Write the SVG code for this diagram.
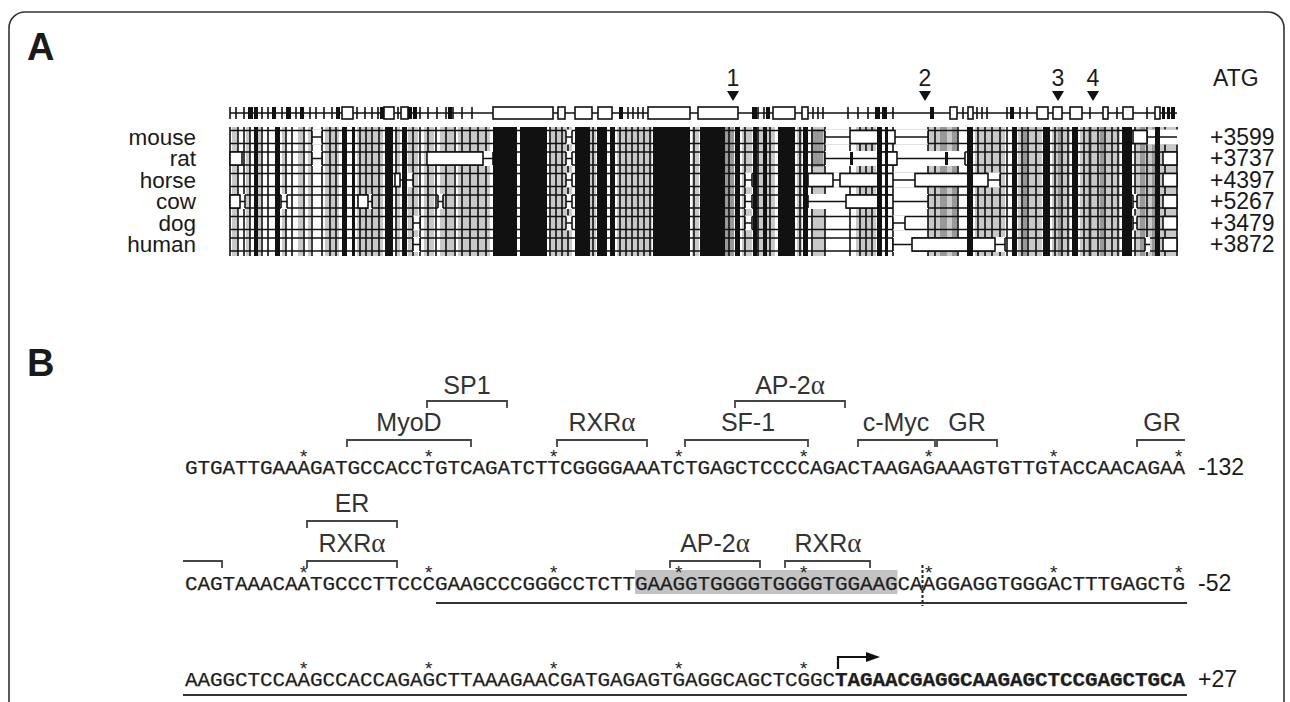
<svg xmlns="http://www.w3.org/2000/svg" width="1290" height="702" viewBox="0 0 1290 702">
<style>
.pl{font-family:"Liberation Sans",Arial,sans-serif;font-weight:bold;font-size:38px;fill:#1a1a1a}
.sp{font-family:"Liberation Sans",Arial,sans-serif;font-size:22.5px;fill:#1a1a1a}
.num{font-family:"Liberation Sans",Arial,sans-serif;font-size:23px;fill:#1a1a1a}
.seq{font-family:"Liberation Mono","Courier New",monospace;font-size:21px;fill:#1e1e1e;stroke:#1e1e1e;stroke-width:0.25}
.st{font-family:"Liberation Mono","Courier New",monospace;font-size:19px;fill:#222;text-anchor:middle}
.lab{font-family:"Liberation Sans",Arial,sans-serif;font-size:25px;fill:#333;text-anchor:middle}
.al{font-family:"Liberation Serif","Times New Roman",serif;font-size:27px}
.br{fill:none;stroke:#444;stroke-width:1.8}
.ln{fill:none;stroke:#111;stroke-width:1.6}
.g1{fill:#c9c9c9}
.g2{fill:#999}
.bk{fill:#111}
.wb{fill:#fff;stroke:#111;stroke-width:1.6}
.er{fill:#fff}
</style>
<rect x="0" y="0" width="1290" height="702" fill="#fff"/>
<g id="frame"><rect x="9" y="12" width="1275" height="740" rx="16" fill="none" stroke="#333" stroke-width="1.6"/></g>
<text class="pl" x="27" y="60">A</text>
<text class="pl" x="27" y="376">B</text>

<g id="panelA">
<g id="species" class="sp" text-anchor="end">
<text x="196" y="144.5">mouse</text>
<text x="196" y="166">rat</text>
<text x="196" y="187.5">horse</text>
<text x="196" y="209">cow</text>
<text x="196" y="230.5">dog</text>
<text x="196" y="252">human</text>
</g>
<g id="atg" class="num">
<text x="1213" y="86">ATG</text>
<text x="1210" y="144.5">+3599</text>
<text x="1210" y="166">+3737</text>
<text x="1210" y="187.5">+4397</text>
<text x="1210" y="209">+5267</text>
<text x="1210" y="230.5">+3479</text>
<text x="1210" y="252">+3872</text>
</g>
<g id="markers" class="num" text-anchor="middle">
<text x="733" y="86">1</text><polygon class="bk" points="727,91 739,91 733,101"/>
<text x="925" y="86">2</text><polygon class="bk" points="919,91 931,91 925,101"/>
<text x="1058" y="86">3</text><polygon class="bk" points="1052,91 1064,91 1058,101"/>
<text x="1093" y="86">4</text><polygon class="bk" points="1087,91 1099,91 1093,101"/>
</g>
<g id="alignment">
<g class="g1">
<rect x="232" y="127" width="6" height="129"/><rect x="246" y="127" width="4" height="129"/><rect x="256" y="127" width="5" height="129"/><rect x="282" y="127" width="4" height="129"/><rect x="298" y="127" width="5" height="129"/><rect x="308" y="127" width="3" height="129"/><rect x="325" y="127" width="14" height="129"/><rect x="357" y="127" width="26" height="129"/><rect x="396" y="127" width="4" height="129"/><rect x="408" y="127" width="10" height="129"/><rect x="424" y="127" width="10" height="129"/><rect x="440" y="127" width="14" height="129"/><rect x="458" y="127" width="32" height="129"/><rect x="550" y="127" width="22" height="129"/><rect x="590" y="127" width="6" height="129"/><rect x="617" y="127" width="35" height="129"/><rect x="692" y="127" width="7" height="129"/><rect x="742" y="127" width="10" height="129"/><rect x="757" y="127" width="18" height="129"/><rect x="797" y="127" width="5" height="129"/><rect x="811" y="127" width="14" height="129"/><rect x="856" y="127" width="20" height="129"/><rect x="928" y="127" width="30" height="129"/><rect x="975" y="127" width="30" height="129"/><rect x="1018" y="127" width="24" height="129"/><rect x="1052" y="127" width="18" height="129"/><rect x="1080" y="127" width="40" height="129"/><rect x="1135" y="127" width="42" height="129"/>
</g>
<g class="g2">
<rect x="725" y="127" width="9" height="129"/><rect x="811" y="129" width="12" height="38"/><rect x="940" y="127" width="7" height="129"/><rect x="952" y="127" width="5" height="129"/><rect x="1022" y="127" width="5" height="129"/><rect x="1058" y="127" width="4" height="129"/><rect x="1088" y="127" width="4" height="129"/><rect x="1100" y="127" width="4" height="129"/><rect x="1140" y="127" width="5" height="129"/><rect x="1152" y="127" width="3" height="129"/>
</g>
<path class="ln" d="M230 127V256M238 127V256M244 127V256M250 127V256M262 127V256M268 127V256M286 127V256M292 127V256M304 127V256M312 127V256M322 127V256M330 127V256M336 127V256M360 127V256M366 127V256M372 127V256M379 127V256M396 127V256M413 127V256M420 127V256M428 127V256M436 127V256M446 127V256M455 127V256M462 127V256M470 127V256M478 127V256M486 127V256M550 127V256M556 127V256M562 127V256M568 127V256M593 127V256M620 127V256M626 127V256M632 127V256M638 127V256M644 127V256M650 127V256M694 127V256M729 127V256M745 127V256M758 127V256M770 127V256M800 127V256M812 127V256M825 127V256M850 127V256M860 127V256M866 127V256M872 127V256M893 127V256M928 127V256M935 127V256M958 127V256M978 127V256M985 127V256M992 127V256M1000 127V256M1007 127V256M1022 127V256M1028 127V256M1036 127V256M1055 127V256M1062 127V256M1068 127V256M1084 127V256M1090 127V256M1098 127V256M1105 127V256M1112 127V256M1118 127V256M1135 127V256M1147 127V256M1165 127V256M1177 127V256"/>
<path class="ln" stroke-width="1.4" d="M230 130.5H1177M230 143.5H1177M230 152H1177M230 165H1177M230 173.5H1177M230 186.5H1177M230 195H1177M230 208H1177M230 216.5H1177M230 229.5H1177M230 238H1177M230 251H1177"/>
<g class="er">
<rect x="312" y="129.5" width="10" height="15"/><rect x="566" y="129.5" width="6" height="15"/><rect x="825" y="129.5" width="25" height="15"/><rect x="895" y="129.5" width="33" height="15"/><rect x="1147" y="129.5" width="32" height="15"/>
<rect x="312" y="151" width="10" height="15"/><rect x="483" y="151" width="10" height="15"/><rect x="566" y="151" width="6" height="15"/><rect x="825" y="151" width="55" height="15"/><rect x="897" y="151" width="68" height="15"/>
<rect x="400" y="172.5" width="13" height="15"/><rect x="566" y="172.5" width="6" height="15"/><rect x="745" y="172.5" width="7" height="15"/><rect x="833" y="172.5" width="7" height="15"/><rect x="893" y="172.5" width="22" height="15"/><rect x="988" y="172.5" width="12" height="15"/>
<rect x="240" y="194" width="5" height="15"/><rect x="281" y="194" width="6" height="15"/><rect x="368" y="194" width="4" height="15"/><rect x="438" y="194" width="5" height="15"/><rect x="566" y="194" width="6" height="15"/><rect x="745" y="194" width="7" height="15"/><rect x="808" y="194" width="38" height="15"/><rect x="893" y="194" width="35" height="15"/><rect x="1133" y="194" width="4" height="15"/>
<rect x="413" y="215.5" width="7" height="15"/><rect x="566" y="215.5" width="6" height="15"/><rect x="745" y="215.5" width="7" height="15"/><rect x="893" y="215.5" width="12" height="15"/><rect x="1133" y="215.5" width="4" height="15"/>
<rect x="413" y="237" width="7" height="15"/><rect x="893" y="237" width="19" height="15"/><rect x="995" y="237" width="10" height="15"/><rect x="1145" y="237" width="5" height="15"/>
</g>
<path class="ln" d="M312 137H322M566 137H572M825 137H850M895 137H928M1147 137H1177M312 158.5H322M483 158.5H493M566 158.5H572M825 158.5H880M897 158.5H965M400 180H413M566 180H572M745 180H752M833 180H840M893 180H915M988 180H1000M240 201.5H245M281 201.5H287M368 201.5H372M438 201.5H443M566 201.5H572M745 201.5H752M808 201.5H846M893 201.5H928M1133 201.5H1137M413 223H420M566 223H572M745 223H752M893 223H905M1133 223H1137M413 244.5H420M893 244.5H912M995 244.5H1005M1145 244.5H1150"/>
<path class="ln" d="M312 130.5V143.5M322 130.5V143.5M566 130.5V143.5M572 130.5V143.5M825 130.5V143.5M928 130.5V143.5M1147 130.5V143.5M312 152V165M322 152V165M493 152V165M566 152V165M572 152V165M825 152V165M965 152V165M413 173.5V186.5M566 173.5V186.5M572 173.5V186.5M745 173.5V186.5M752 173.5V186.5M1000 173.5V186.5M245 195V208M281 195V208M287 195V208M372 195V208M438 195V208M443 195V208M566 195V208M572 195V208M745 195V208M752 195V208M808 195V208M928 195V208M1133 195V208M1137 195V208M413 216.5V229.5M420 216.5V229.5M566 216.5V229.5M572 216.5V229.5M745 216.5V229.5M752 216.5V229.5M893 216.5V229.5M905 216.5V229.5M1133 216.5V229.5M1137 216.5V229.5M413 238V251M420 238V251M893 238V251M1005 238V251M1145 238V251"/>
<g class="wb">
<rect x="850" y="130.5" width="45" height="13"/><rect x="1133" y="130.5" width="14" height="13"/>
<rect x="230" y="152" width="12" height="13"/><rect x="427" y="152" width="56" height="13"/><rect x="880" y="152" width="17" height="13"/><rect x="1163" y="152" width="14" height="13"/>
<rect x="395" y="173.5" width="5" height="13"/><rect x="808" y="173.5" width="25" height="13"/><rect x="840" y="173.5" width="53" height="13"/><rect x="915" y="173.5" width="73" height="13"/><rect x="1163" y="173.5" width="14" height="13"/>
<rect x="230" y="195" width="10" height="13"/><rect x="358" y="195" width="10" height="13"/><rect x="846" y="195" width="47" height="13"/><rect x="1163" y="195" width="14" height="13"/>
<rect x="1163" y="216.5" width="14" height="13"/>
<rect x="912" y="238" width="83" height="13"/><rect x="1163" y="238" width="14" height="13"/>
</g>
<g class="bk">
<rect x="850" y="152" width="3" height="13"/><rect x="945" y="152" width="3" height="13"/>
<rect x="254" y="127" width="4" height="129"/><rect x="275" y="127" width="5" height="129"/><rect x="342" y="127" width="5" height="129"/><rect x="352" y="127" width="3" height="129"/><rect x="385" y="127" width="8" height="129"/><rect x="402" y="127" width="5" height="129"/><rect x="493" y="127" width="24" height="129"/><rect x="520" y="127" width="27" height="129"/><rect x="575" y="127" width="15" height="129"/><rect x="597" y="127" width="10" height="129"/><rect x="610" y="127" width="5" height="129"/><rect x="653" y="127" width="37" height="129"/><rect x="700" y="127" width="25" height="129"/><rect x="735" y="127" width="5" height="129"/><rect x="753" y="127" width="4" height="129"/><rect x="763" y="127" width="4" height="129"/><rect x="778" y="127" width="17" height="129"/><rect x="803" y="127" width="5" height="129"/><rect x="877" y="127" width="5" height="129"/><rect x="885" y="127" width="3" height="129"/><rect x="967" y="127" width="6" height="129"/><rect x="1012" y="127" width="5" height="129"/><rect x="1043" y="127" width="7" height="129"/><rect x="1072" y="127" width="6" height="129"/><rect x="1122" y="127" width="10" height="129"/><rect x="1155" y="127" width="5" height="129"/>
</g>
</g>
<g id="refbar">
<path class="ln" d="M230 113H1177"/>
<path class="ln" d="M230 107V119M236 107V119M244 107V119M262 107V119M268 107V119M282 107V119M296 107V119M310 107V119M316 107V119M324 107V119M332 107V119M357 107V119M365 107V119M372 107V119M378 107V119M398 107V119M420 107V119M428 107V119M437 107V119M446 107V119M453 107V119M462 107V119M472 107V119M628 107V119M633 107V119M638 107V119M643 107V119M758 107V119M764 107V119M813 107V119M818 107V119M823 107V119M848 107V119M858 107V119M868 107V119M893 107V119M963 107V119M977 107V119M982 107V119M987 107V119M1007 107V119M1020 107V119M1027 107V119M1090 107V119M1117 107V119M1147 107V119"/>
<g class="bk">
<rect x="248" y="107" width="5" height="12"/><rect x="254" y="107" width="4" height="12"/><rect x="272" y="107" width="4" height="12"/><rect x="286" y="107" width="5" height="12"/><rect x="300" y="107" width="4" height="12"/><rect x="336" y="107" width="4" height="12"/><rect x="380" y="107" width="4" height="12"/><rect x="408" y="107" width="4" height="12"/><rect x="413" y="107" width="4" height="12"/><rect x="448" y="107" width="4" height="12"/><rect x="619" y="107" width="4" height="12"/><rect x="752" y="107" width="5" height="12"/><rect x="766" y="107" width="4" height="12"/><rect x="875" y="107" width="5" height="12"/><rect x="882" y="107" width="5" height="12"/><rect x="930" y="107" width="4" height="12"/><rect x="1010" y="107" width="4" height="12"/><rect x="1162" y="107" width="3" height="12"/><rect x="1167" y="107" width="3" height="12"/><rect x="1171" y="107" width="4" height="12"/>
</g>
<g class="wb">
<rect x="342" y="107" width="11" height="12"/><rect x="384" y="107" width="10" height="12"/><rect x="401" y="107" width="7" height="12"/><rect x="493" y="107" width="60" height="12"/><rect x="558" y="107" width="7" height="12"/><rect x="575" y="107" width="17" height="12"/><rect x="598" y="107" width="14" height="12"/><rect x="648" y="107" width="42" height="12"/><rect x="698" y="107" width="40" height="12"/><rect x="773" y="107" width="22" height="12"/><rect x="802" y="107" width="6" height="12"/><rect x="950" y="107" width="7" height="12"/><rect x="968" y="107" width="5" height="12"/><rect x="1037" y="107" width="11" height="12"/><rect x="1053" y="107" width="9" height="12"/><rect x="1070" y="107" width="12" height="12"/><rect x="1103" y="107" width="5" height="12"/><rect x="1123" y="107" width="10" height="12"/><rect x="1155" y="107" width="5" height="12"/>
</g>
</g>
</g>

<g id="panelB">
<g id="row1">
<g class="lab">
<text x="467" y="394">SP1</text>
<text x="790" y="394">AP-2<tspan class="al">α</tspan></text>
<text x="409" y="431">MyoD</text>
<text x="602" y="431">RXR<tspan class="al">α</tspan></text>
<text x="748" y="431">SF-1</text>
<text x="896" y="431">c-Myc</text>
<text x="967" y="431">GR</text>
<text x="1162" y="431">GR</text>
</g>
<path class="br" d="M427 408V401H507V408M735 408V401H845V408M347 447V440H471V447M557 447V440H647V447M685 447V440H808V447M858 447V440H935V447M937 447V440H997V447M1137 447V440H1185"/>
<g class="st">
<text x="303.75" y="463">*</text><text x="428.75" y="463">*</text><text x="553.75" y="463">*</text><text x="678.75" y="463">*</text><text x="803.75" y="463">*</text><text x="928.75" y="463">*</text><text x="1053.75" y="463">*</text><text x="1178.75" y="463">*</text>
</g>
<text class="seq" x="185" y="474" textLength="1000" lengthAdjust="spacing">GTGATTGAAAGATGCCACCTGTCAGATCTTCGGGGAAATCTGAGCTCCCCAGACTAAGAGAAAGTGTTGTACCAACAGAA</text>
<text class="num" x="1198" y="475">-132</text>
</g>
<g id="row2">
<rect x="635" y="570" width="262.5" height="24" fill="#c3c3c3"/>
<g class="lab">
<text x="352" y="512">ER</text>
<text x="352" y="552">RXR<tspan class="al">α</tspan></text>
<text x="715" y="552">AP-2<tspan class="al">α</tspan></text>
<text x="828" y="552">RXR<tspan class="al">α</tspan></text>
</g>
<path class="br" d="M183 561H222V568M307 528V521H397V528M307 568V561H397V568M670 568V561H760V568M785 568V561H870V568"/>
<g class="st">
<text x="303.75" y="579">*</text><text x="428.75" y="579">*</text><text x="553.75" y="579">*</text><text x="678.75" y="579">*</text><text x="803.75" y="579">*</text><text x="928.75" y="579">*</text><text x="1053.75" y="579">*</text><text x="1178.75" y="579">*</text>
</g>
<text class="seq" x="185" y="590" textLength="1000" lengthAdjust="spacing">CAGTAAACAATGCCCTTCCCGAAGCCCGGGCCTCTTGAAGGTGGGGTGGGGTGGAAGCAAGGAGGTGGGACTTTGAGCTG</text>
<line x1="922.5" y1="565" y2="606" x2="922.5" stroke="#222" stroke-width="2" stroke-dasharray="3,2"/>
<line x1="436" y1="603" x2="1187" y2="603" stroke="#333" stroke-width="2"/>
<text class="num" x="1198" y="591">-52</text>
</g>
<g id="row3">
<g class="st">
<text x="303.75" y="675">*</text><text x="428.75" y="675">*</text><text x="553.75" y="675">*</text><text x="678.75" y="675">*</text><text x="803.75" y="675">*</text>
</g>
<path d="M838 669V657H868" fill="none" stroke="#111" stroke-width="2.2"/>
<polygon class="bk" points="866,652 880,657 866,662"/>
<text class="seq" x="185" y="686" textLength="1000" lengthAdjust="spacing">AAGGCTCCAAGCCACCAGAGCTTAAAGAACGATGAGAGTGAGGCAGCTCGGC<tspan font-weight="bold">TAGAACGAGGCAAGAGCTCCGAGCTGCA</tspan></text>
<line x1="183" y1="695" x2="1187" y2="695" stroke="#333" stroke-width="2"/>
<text class="num" x="1198" y="687">+27</text>
</g>
</g>
</svg>
